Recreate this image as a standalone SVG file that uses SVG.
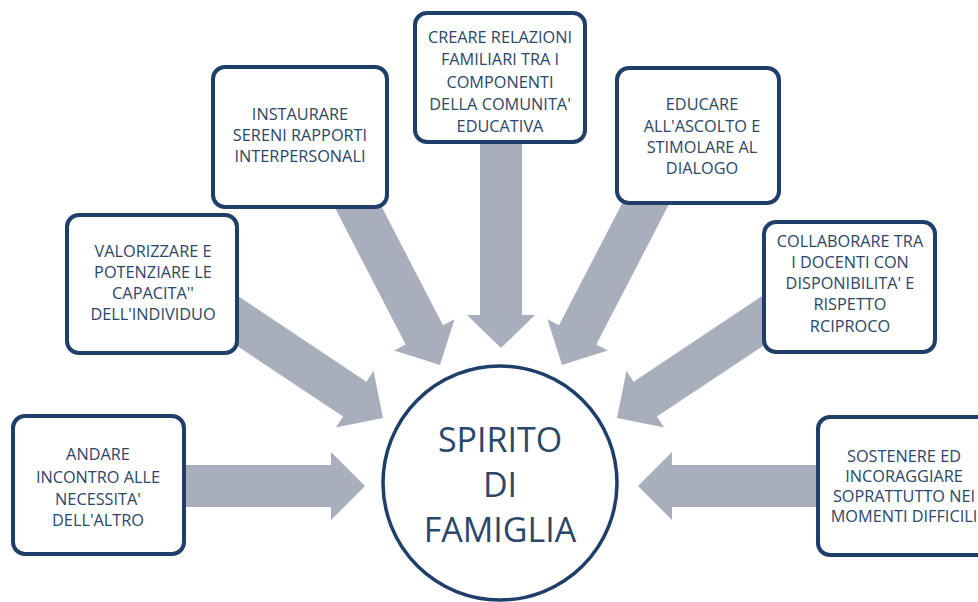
<svg xmlns="http://www.w3.org/2000/svg" width="978" height="602" viewBox="0 0 978 602">
<style>
.box{fill:#fff;stroke:#1f3e69;stroke-width:4}
.t{font-family:"Open Sans","Liberation Sans",sans-serif;font-size:16.3px;fill:#2b4668;text-anchor:middle}
.big{font-family:"Open Sans","Liberation Sans",sans-serif;font-size:34px;fill:#2b4668;text-anchor:middle}
.arr{fill:#a9aebd}
</style>
<rect width="978" height="602" fill="#fff"/>
<g id="connectors" class="arr">
<polygon points="184,465 331,465 331,452 365,486 331,520 331,507 184,507"/>
<polygon points="818,465 672,465 672,452 638,486 672,520 672,507 818,507"/>
<polygon points="480,142 480,315 467,315 501,348 535,315 522,315 522,142"/>
<g transform="translate(383,418) rotate(33.7)"><polygon points="0,0 -34,-34 -34,-21 -200,-21 -200,21 -34,21 -34,34"/></g>
<g transform="translate(617,418) rotate(146.3)"><polygon points="0,0 -34,-34 -34,-21 -200,-21 -200,21 -34,21 -34,34"/></g>
<g transform="translate(440,365) rotate(62.6)"><polygon points="0,0 -34,-34 -34,-21 -200,-21 -200,21 -34,21 -34,34"/></g>
<g transform="translate(562,365) rotate(117.4)"><polygon points="0,0 -34,-34 -34,-21 -200,-21 -200,21 -34,21 -34,34"/></g>
</g>
<g id="center">
<circle cx="500" cy="483" r="117" fill="#fff" stroke="#1f3e69" stroke-width="3.5"/>
<text class="big" x="500" y="452">SPIRITO</text>
<text class="big" x="500" y="497">DI</text>
<text class="big" x="500" y="542">FAMIGLIA</text>
</g>
<g id="n1">
<rect class="box" x="13" y="416" width="171" height="138" rx="12"/>
<text class="t" x="98" y="460">ANDARE</text>
<text class="t" x="98" y="483">INCONTRO ALLE</text>
<text class="t" x="98" y="505">NECESSITA'</text>
<text class="t" x="98" y="526">DELL'ALTRO</text>
</g>
<g id="n2">
<rect class="box" x="67" y="215" width="170" height="138" rx="12"/>
<text class="t" x="153" y="257">VALORIZZARE E</text>
<text class="t" x="153" y="278">POTENZIARE LE</text>
<text class="t" x="153" y="299">CAPACITA''</text>
<text class="t" x="153" y="320">DELL'INDIVIDUO</text>
</g>
<g id="n3">
<rect class="box" x="213" y="67" width="174" height="140" rx="12"/>
<text class="t" x="300" y="120">INSTAURARE</text>
<text class="t" x="300" y="141">SERENI RAPPORTI</text>
<text class="t" x="300" y="162">INTERPERSONALI</text>
</g>
<g id="n4">
<rect class="box" x="415" y="13" width="170" height="129" rx="12"/>
<text class="t" x="500" y="43">CREARE RELAZIONI</text>
<text class="t" x="500" y="65">FAMILIARI TRA I</text>
<text class="t" x="500" y="88">COMPONENTI</text>
<text class="t" x="500" y="110">DELLA COMUNITA'</text>
<text class="t" x="500" y="132">EDUCATIVA</text>
</g>
<g id="n5">
<rect class="box" x="617" y="68" width="162" height="135" rx="12"/>
<text class="t" x="702" y="110">EDUCARE</text>
<text class="t" x="702" y="132">ALL'ASCOLTO E</text>
<text class="t" x="702" y="153">STIMOLARE AL</text>
<text class="t" x="702" y="174">DIALOGO</text>
</g>
<g id="n6">
<rect class="box" x="764" y="222" width="171" height="130" rx="12"/>
<text class="t" x="850" y="247">COLLABORARE TRA</text>
<text class="t" x="850" y="268">I DOCENTI CON</text>
<text class="t" x="850" y="289">DISPONIBILITA' E</text>
<text class="t" x="850" y="310">RISPETTO</text>
<text class="t" x="850" y="332">RCIPROCO</text>
</g>
<g id="n7">
<rect class="box" x="818" y="417" width="174" height="138" rx="12"/>
<text class="t" x="904" y="462">SOSTENERE ED</text>
<text class="t" x="904" y="482">INCORAGGIARE</text>
<text class="t" x="904" y="502">SOPRATTUTTO NEI</text>
<text class="t" x="904" y="522">MOMENTI DIFFICILI</text>
</g>
</svg>
